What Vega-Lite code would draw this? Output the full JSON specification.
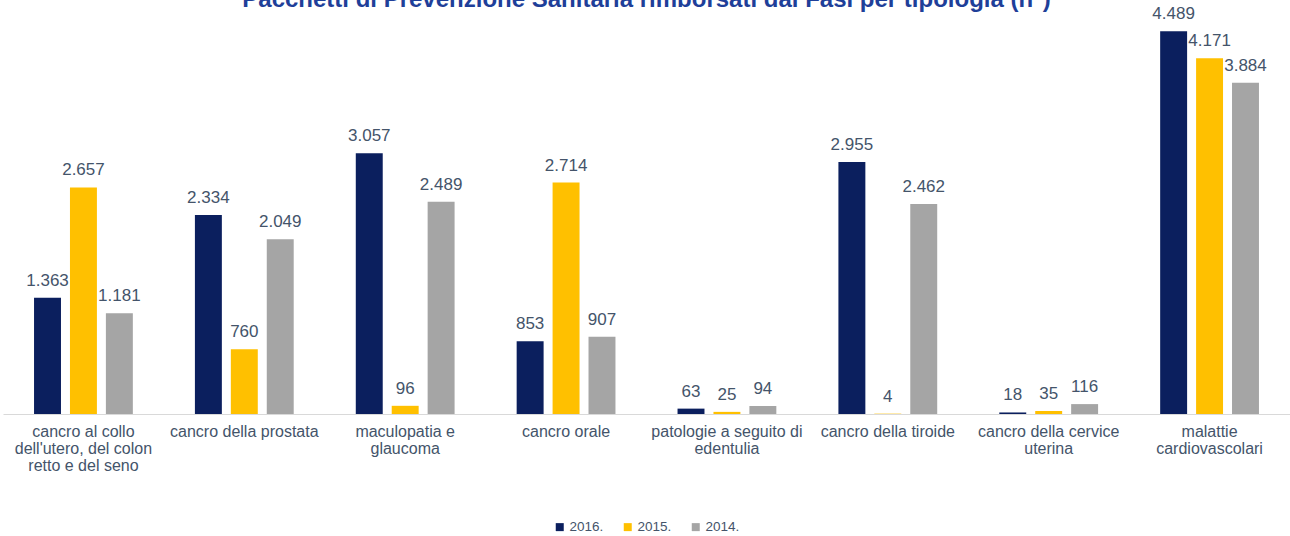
{
  "$schema": "https://vega.github.io/schema/vega-lite/v6.json",
  "width": 1287,
  "height": 394,
  "padding": {"left": 3, "top": -12, "right": 0, "bottom": 0},
  "autosize": {"type": "pad"},
  "config": {
    "view": {"stroke": null},
    "font": "Liberation Sans",
    "locale": {"number": {"decimal": ",", "thousands": ".", "grouping": [3], "currency": ["€", ""]}},
    "legend": {"layout": {"bottom": {"anchor": "middle"}}}
  },
  "title": {
    "text": "Pacchetti di Prevenzione Sanitaria rimborsati dai Fasi per tipologia (n°)",
    "font": "Liberation Sans",
    "fontSize": 24,
    "fontWeight": "bold",
    "color": "#1F3F99",
    "anchor": "middle",
    "baseline": "alphabetic",
    "offset": -26
  },
  "data": {
    "values": [
      {"categoria": "cancro al collo dell'utero, del colon retto e del seno", "anno": "2016.", "valore": 1363},
      {"categoria": "cancro al collo dell'utero, del colon retto e del seno", "anno": "2015.", "valore": 2657},
      {"categoria": "cancro al collo dell'utero, del colon retto e del seno", "anno": "2014.", "valore": 1181},
      {"categoria": "cancro della prostata", "anno": "2016.", "valore": 2334},
      {"categoria": "cancro della prostata", "anno": "2015.", "valore": 760},
      {"categoria": "cancro della prostata", "anno": "2014.", "valore": 2049},
      {"categoria": "maculopatia e glaucoma", "anno": "2016.", "valore": 3057},
      {"categoria": "maculopatia e glaucoma", "anno": "2015.", "valore": 96},
      {"categoria": "maculopatia e glaucoma", "anno": "2014.", "valore": 2489},
      {"categoria": "cancro orale", "anno": "2016.", "valore": 853},
      {"categoria": "cancro orale", "anno": "2015.", "valore": 2714},
      {"categoria": "cancro orale", "anno": "2014.", "valore": 907},
      {"categoria": "patologie  a seguito di edentulia", "anno": "2016.", "valore": 63},
      {"categoria": "patologie  a seguito di edentulia", "anno": "2015.", "valore": 25},
      {"categoria": "patologie  a seguito di edentulia", "anno": "2014.", "valore": 94},
      {"categoria": "cancro della tiroide", "anno": "2016.", "valore": 2955},
      {"categoria": "cancro della tiroide", "anno": "2015.", "valore": 4},
      {"categoria": "cancro della tiroide", "anno": "2014.", "valore": 2462},
      {"categoria": "cancro della cervice uterina", "anno": "2016.", "valore": 18},
      {"categoria": "cancro della cervice uterina", "anno": "2015.", "valore": 35},
      {"categoria": "cancro della cervice uterina", "anno": "2014.", "valore": 116},
      {"categoria": "malattie cardiovascolari", "anno": "2016.", "valore": 4489},
      {"categoria": "malattie cardiovascolari", "anno": "2015.", "valore": 4171},
      {"categoria": "malattie cardiovascolari", "anno": "2014.", "valore": 3884}
    ]
  },
  "encoding": {
    "x": {
      "field": "categoria",
      "type": "nominal",
      "sort": null,
      "scale": {"paddingInner": 0.33, "paddingOuter": 0.165},
      "axis": {
        "title": null,
        "labelAngle": 0,
        "ticks": false,
        "domainColor": "#D9D9D9",
        "domainWidth": 1,
        "labelFont": "Liberation Sans",
        "labelFontSize": 16,
        "labelColor": "#44546A",
        "labelPadding": 9,
        "labelLineHeight": 17,
        "labelLimit": 300,
        "labelOverlap": false,
        "labelExpr": "datum.label == \"cancro al collo dell'utero, del colon retto e del seno\" ? [\"cancro al collo\", \"dell'utero, del colon\", \"retto e del seno\"] : datum.label == 'maculopatia e glaucoma' ? ['maculopatia e', 'glaucoma'] : datum.label == 'patologie  a seguito di edentulia' ? ['patologie  a seguito di', 'edentulia'] : datum.label == 'cancro della cervice uterina' ? ['cancro della cervice', 'uterina'] : datum.label == 'malattie cardiovascolari' ? ['malattie', 'cardiovascolari'] : datum.label"
      }
    },
    "xOffset": {
      "field": "anno",
      "type": "nominal",
      "sort": ["2016.", "2015.", "2014."],
      "scale": {"paddingInner": 0.25, "paddingOuter": 0.125}
    },
    "y": {
      "field": "valore",
      "type": "quantitative",
      "scale": {"domain": [0, 4620], "nice": false},
      "axis": null
    }
  },
  "layer": [
    {
      "mark": {"type": "bar"},
      "encoding": {
        "color": {
          "field": "anno",
          "type": "nominal",
          "sort": ["2016.", "2015.", "2014."],
          "scale": {"domain": ["2016.", "2015.", "2014."], "range": ["#0B1F5E", "#FFC000", "#A5A5A5"]},
          "legend": {
            "title": null,
            "orient": "bottom",
            "direction": "horizontal",
            "symbolType": "square",
            "symbolSize": 64,
            "symbolStrokeWidth": 0,
            "labelFont": "Liberation Sans",
            "labelFontSize": 13.5,
            "labelColor": "#44546A",
            "labelOffset": 3,
            "columnPadding": 17,
            "offset": 47
          }
        }
      }
    },
    {
      "mark": {"type": "text", "baseline": "bottom", "dy": -8, "fontSize": 17, "font": "Liberation Sans", "color": "#44546A"},
      "encoding": {
        "text": {"field": "valore", "type": "quantitative", "format": ",d"}
      }
    }
  ]
}
